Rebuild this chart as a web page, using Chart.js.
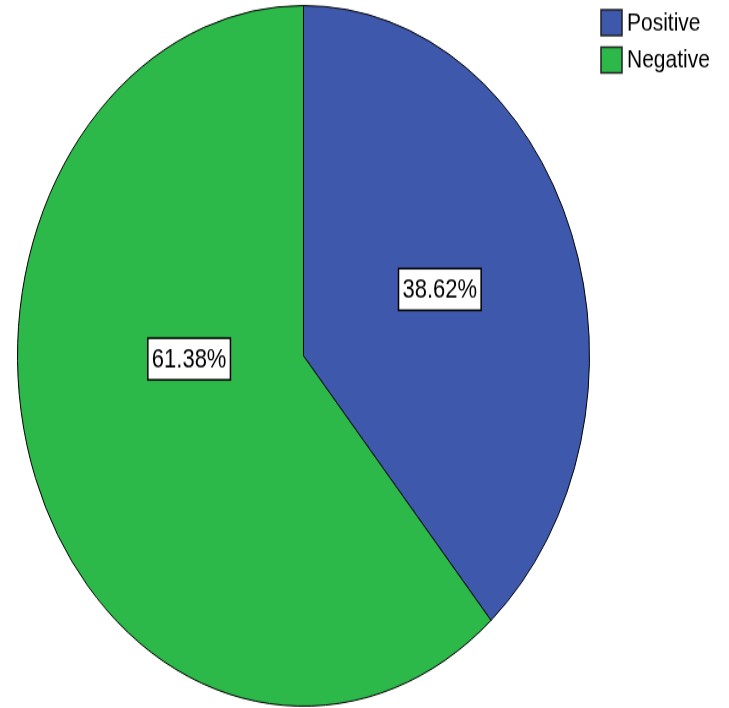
<!DOCTYPE html>
<html>
<head>
<meta charset="utf-8">
<script src="https://cdn.jsdelivr.net/npm/chart.js@4"></script>
<style>
    html, body { margin: 0; padding: 0; background: #fff; overflow: hidden; }
    /* the reference picture is stretched vertically, so is this one */
    #wrap { width: 729px; height: 708px; overflow: hidden; }
    #pieChart { display: block; transform: scale(1, 1.2249); transform-origin: 0 0; }
</style>
</head>
<body>
<div id="wrap"><canvas id="pieChart" width="729" height="578"></canvas></div>
<script>
const categories = ['Positive', 'Negative'];
const shares = [38.62, 61.38];
const sliceColors = ['#3e58ac', '#2db84a'];

/* label placement: distance as a part of the radius, turn from mid angle in degrees */
const labelRadius = [0.513, 0.40];
const labelTurn = [-1.2, 19.2];

/* Draw value boxes and the legend */
const labelPlugin = {
    id: 'pieLabels',
    afterDraw(chart) {
        const ctx = chart.ctx;
        const meta = chart.getDatasetMeta(0);
        ctx.save();
        ctx.font = '22px "Liberation Sans", Arial, sans-serif';
        ctx.textAlign = 'center';
        ctx.textBaseline = 'middle';
        meta.data.forEach((arc, i) => {
            const mid = (arc.startAngle + arc.endAngle) / 2 + labelTurn[i] * Math.PI / 180;
            const r = arc.outerRadius * labelRadius[i];
            const x = arc.x + Math.cos(mid) * r;
            const y = arc.y + Math.sin(mid) * r;
            const text = shares[i].toFixed(2) + '%';
            const w = ctx.measureText(text).width + 8;
            const h = 34;
            ctx.fillStyle = '#fff';
            ctx.fillRect(x - w / 2, y - h / 2, w, h);
            ctx.strokeStyle = '#000';
            ctx.lineWidth = 1.5;
            ctx.strokeRect(x - w / 2, y - h / 2, w, h);
            ctx.fillStyle = '#000';
            ctx.fillText(text, x, y + 1);
        });

        // legend, top right
        ctx.font = '21px "Liberation Sans", Arial, sans-serif';
        ctx.textAlign = 'left';
        categories.forEach((name, i) => {
            const top = 8 + i * 30.5;
            ctx.fillStyle = sliceColors[i];
            ctx.fillRect(601, top, 21, 21);
            ctx.strokeStyle = '#222';
            ctx.lineWidth = 1.5;
            ctx.strokeRect(601, top, 21, 21);
            ctx.fillStyle = '#000';
            ctx.fillText(name, 627, top + 11);
        });
        ctx.restore();
    }
};

new Chart(document.getElementById('pieChart'), {
    type: 'pie',
    data: {
        labels: categories,
        datasets: [{
            data: shares,
            backgroundColor: sliceColors,
            borderColor: '#000',
            borderWidth: 1
        }]
    },
    options: {
        responsive: false,
        animation: false,
        layout: { padding: { left: 17, right: 139, top: 4, bottom: 1 } },
        plugins: {
            legend: { display: false },
            tooltip: { enabled: false }
        }
    },
    plugins: [labelPlugin]
});
</script>
</body>
</html>
